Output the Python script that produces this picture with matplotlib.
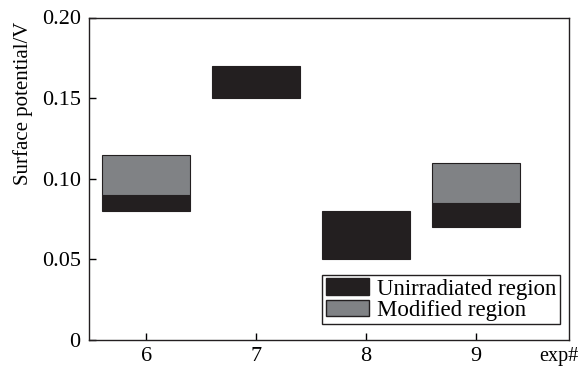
import matplotlib
matplotlib.use("Agg")
import matplotlib.pyplot as plt
from matplotlib.patches import Patch

experiments = [6, 7, 8, 9]
unirr_low = [0.080, 0.150, 0.050, 0.070]
unirr_high = [0.090, 0.170, 0.080, 0.085]
mod_exps = [6, 9]
mod_low = [0.090, 0.085]
mod_high = [0.115, 0.110]
yticks = [0, 0.05, 0.10, 0.15, 0.20]
yticklabels = ["0", "0.05", "0.10", "0.15", "0.20"]

black = "#231f20"
gray = "#808285"

plt.rcParams['font.family'] = ['Liberation Serif', 'DejaVu Serif']
fig = plt.figure(figsize=(5.79, 3.67), dpi=100)
ax = fig.add_axes([89/579, 1-340/367, (569-89)/579, (340-17.5)/367])

ax.bar(experiments, [h - l for h, l in zip(unirr_high, unirr_low)], bottom=unirr_low,
       width=0.8, color=black, edgecolor=black, linewidth=0.8)
ax.bar(mod_exps, [h - l for h, l in zip(mod_high, mod_low)], bottom=mod_low,
       width=0.8, color=gray, edgecolor=black, linewidth=0.8)

ax.set_xlim(5.48, 9.85)
ax.set_ylim(0, 0.20)
ax.set_xticks(experiments)
ax.set_xticklabels([str(e) for e in experiments])
ax.set_yticks(yticks)
ax.set_yticklabels(yticklabels)
ax.tick_params(direction='in', labelsize=16, length=5, width=1, pad=6, top=False, right=False)
ax.tick_params(axis='x', pad=5)
for s in ax.spines.values():
    s.set_linewidth(1)
    s.set_color(black)
ax.set_ylabel("Surface potential/V", fontsize=15)
ax.yaxis.set_label_coords((33-89)/480, 0.734)
fig.text(578/579, 1-356/367, "exp#", fontsize=14.5, ha='right', va='center')

handles = [Patch(facecolor=black, edgecolor=black, label="Unirradiated region"),
           Patch(facecolor=gray, edgecolor=black, label="Modified region")]
leg = ax.legend(handles=handles, loc='lower right', bbox_to_anchor=(0.981, 0.0496),
                fontsize=16.5, frameon=True, fancybox=False, framealpha=1,
                edgecolor=black, borderpad=0.15, handlelength=1.9, handleheight=0.7,
                handletextpad=0.35, labelspacing=0.0, borderaxespad=0.0)
leg.get_frame().set_linewidth(1)

fig.savefig("out.png", dpi=100)
